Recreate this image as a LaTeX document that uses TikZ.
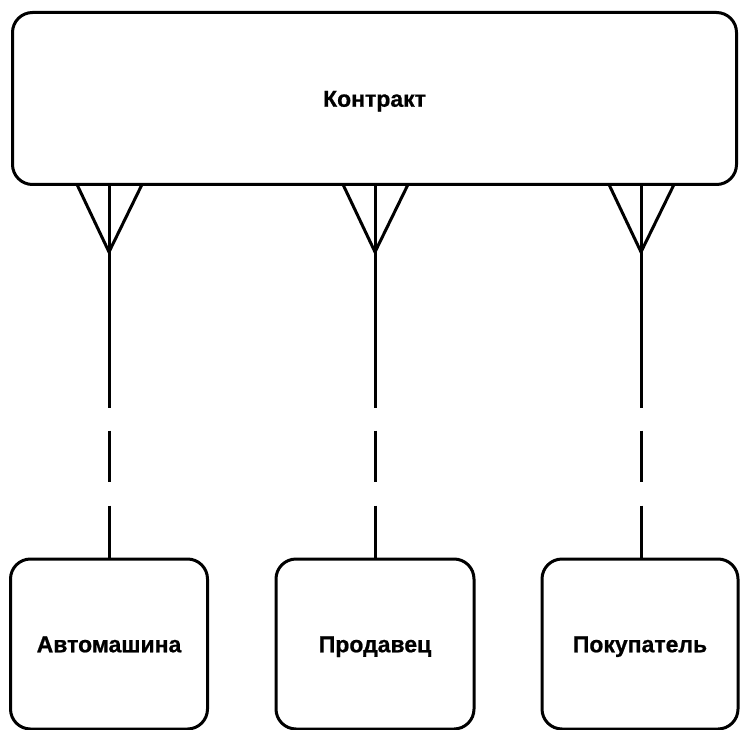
\documentclass[tikz,border=0pt]{standalone}
\usepackage{fontspec}
\setmainfont{Liberation Sans}
\newfontfamily\heavyfont[FakeBold=0.8]{Liberation Sans Bold}
\begin{document}
\begin{tikzpicture}[x=1pt,y=-1pt,
  entity/.style={draw=black, line width=3pt, rounded corners=20pt, fill=white,
    font=\heavyfont\fontsize{23}{26}\selectfont, inner sep=0pt,
    text height=16.5pt, text depth=0pt},
  rel/.style={line width=3pt, dash pattern=on 223pt off 23pt on 51pt off 24pt on 200pt},
  foot/.style={line width=3pt}]
\useasboundingbox (0,0) rectangle (741,730);

% entities
\node[entity, minimum width=724pt, minimum height=172pt] (contract) at (374.5,98.5) {Контракт};
\node[entity, minimum width=197pt, minimum height=170pt] (car) at (109,644) {Автомашина};
\node[entity, minimum width=198pt, minimum height=170pt] (seller) at (375,644) {Продавец};
\node[entity, minimum width=196pt, minimum height=170pt] (buyer) at (640,644) {Покупатель};

% relationship lines with crow's feet at the contract end
\foreach \name/\x in {car/109, seller/375, buyer/641}{
  \coordinate (top-\name) at (\x,184.5);
  \coordinate (apex-\name) at (\x,252);
  \coordinate (bot-\name) at (\x,559);
  \draw[rel] (top-\name) -- (bot-\name);
  \draw[foot] ([xshift=-32pt]top-\name) -- (apex-\name) -- ([xshift=33pt]top-\name);
}
\end{tikzpicture}
\end{document}
